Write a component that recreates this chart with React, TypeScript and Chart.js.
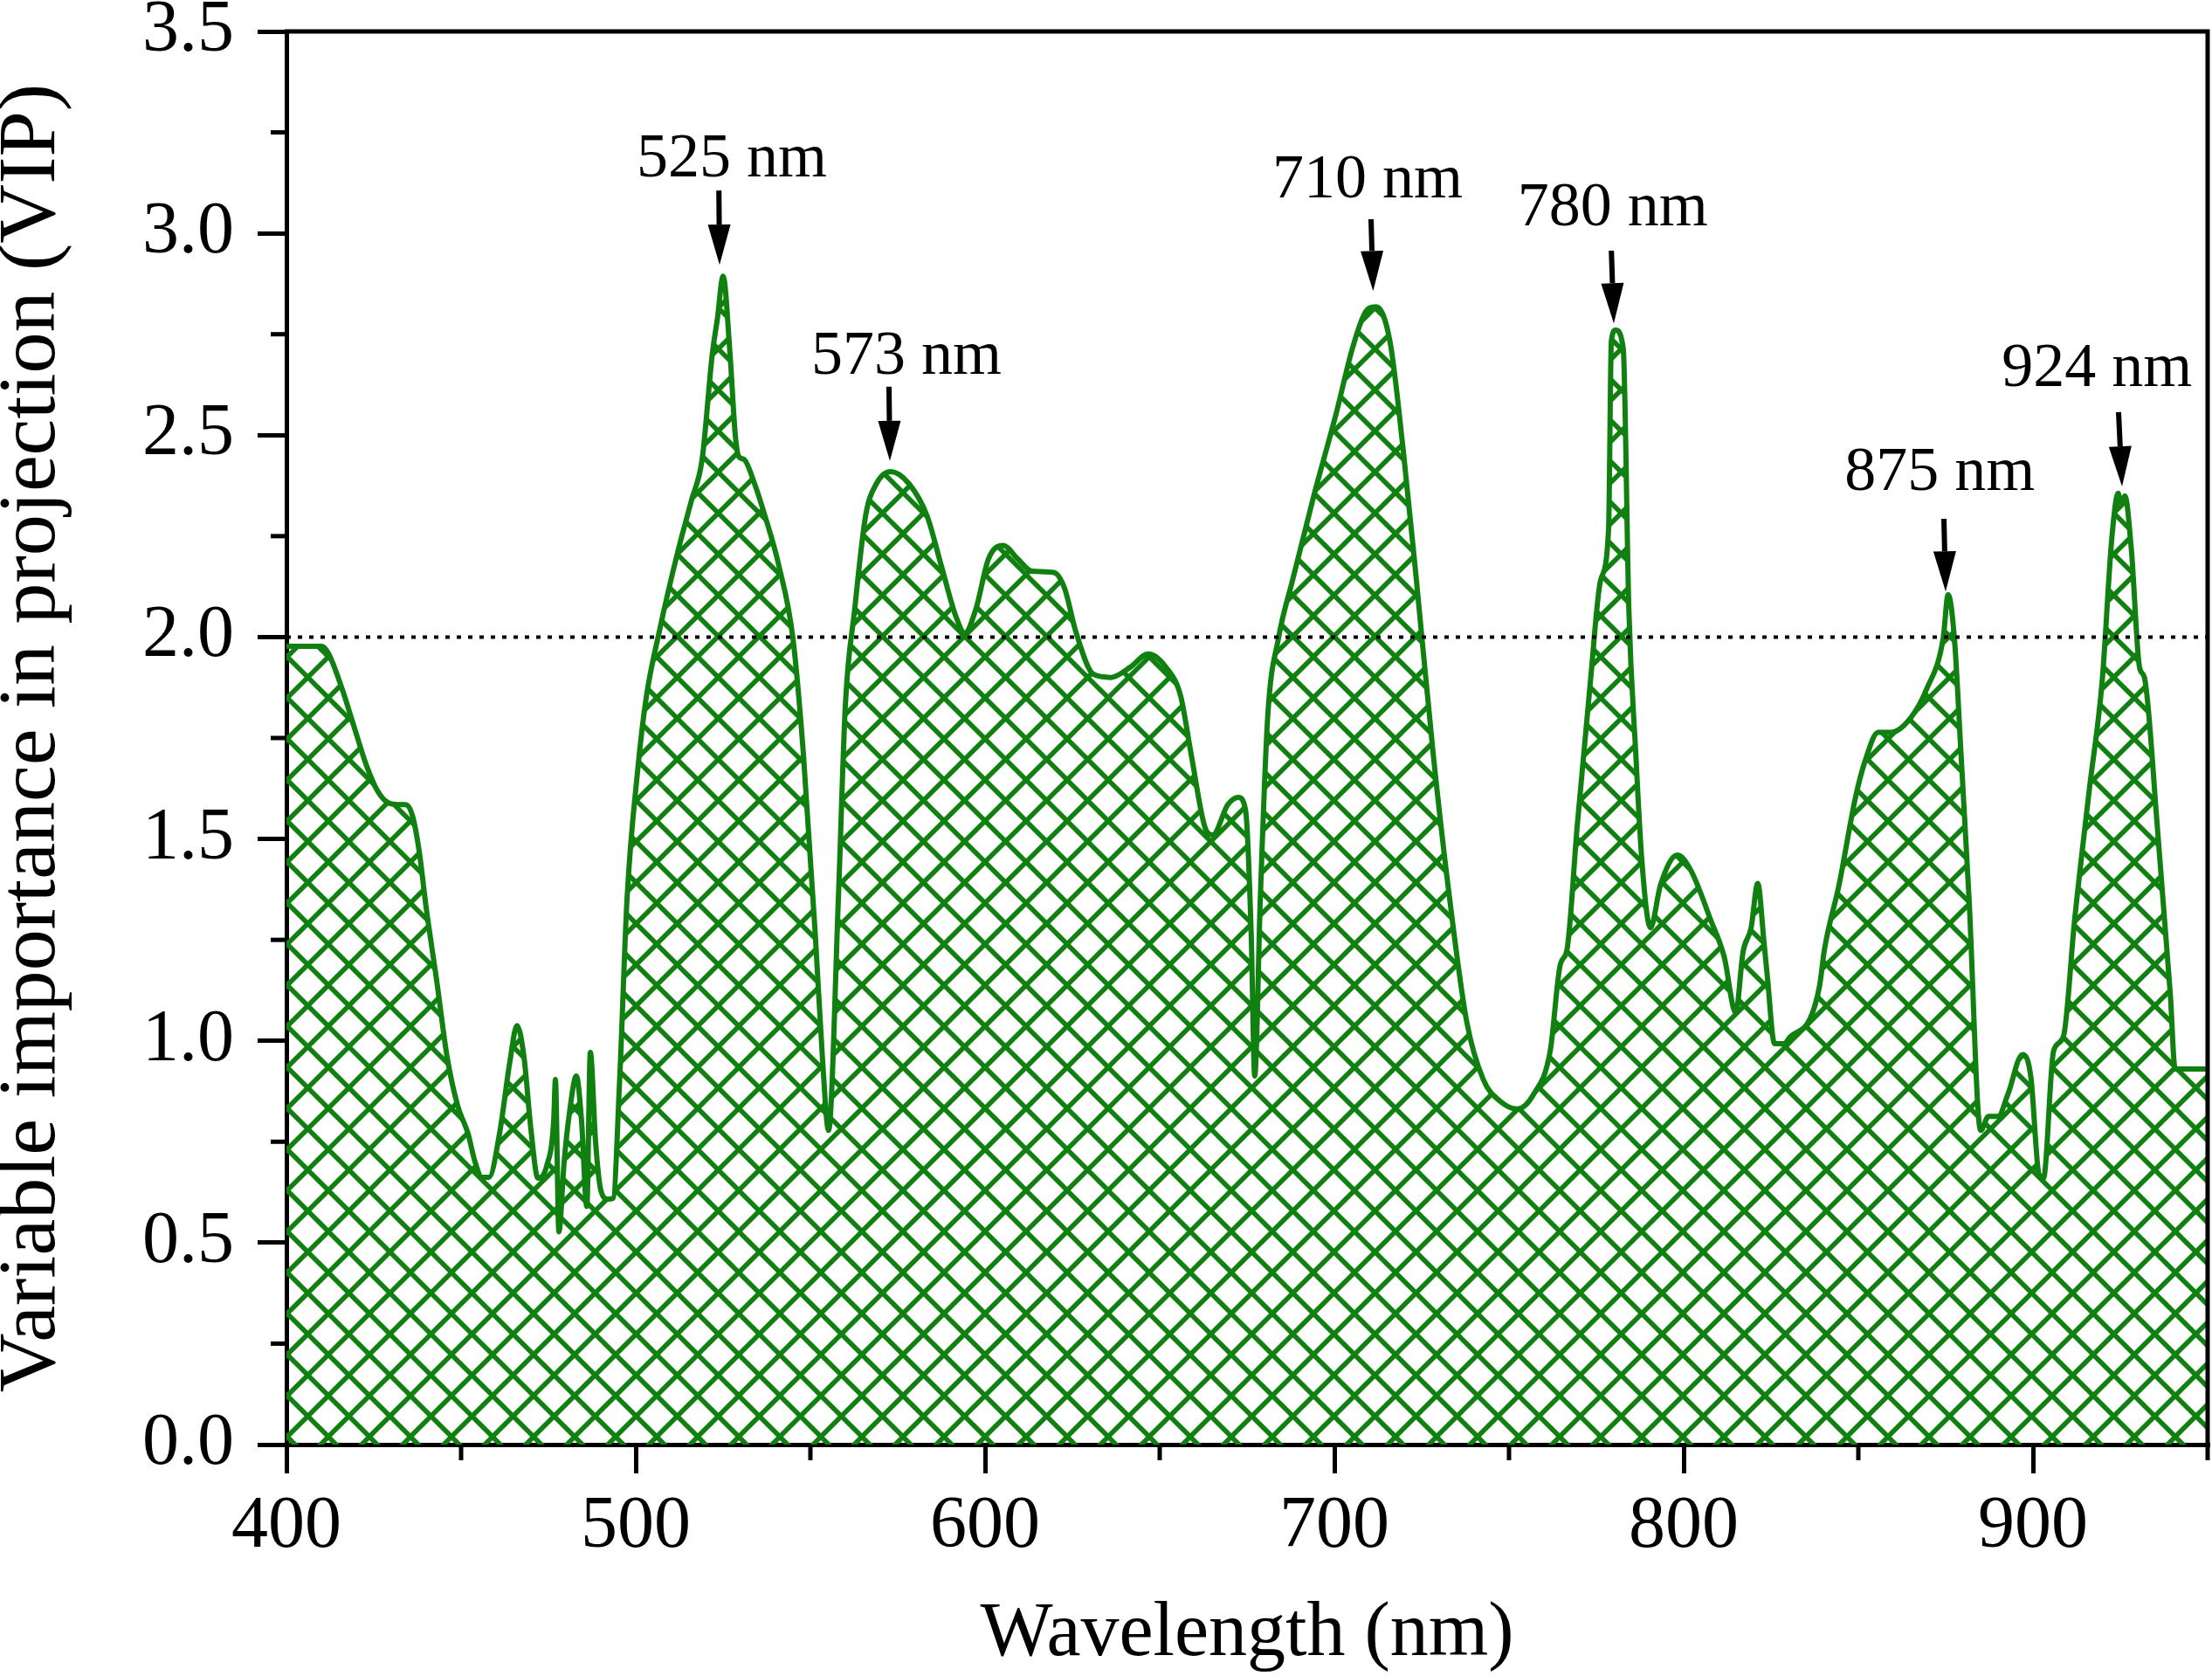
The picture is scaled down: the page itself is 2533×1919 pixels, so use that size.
import { useEffect, useRef } from 'react';
import { Chart, registerables } from 'chart.js';
Chart.register(...registerables);

// VIP spectrum
const WAVELENGTH = [
  400, 410, 412, 416, 420, 423, 426, 429, 432, 434, 436, 438, 440, 443, 446, 449, 452, 454, 456, 458,
  461, 464, 466, 468, 470, 472, 474.5, 476.5, 477, 478, 479.5, 481, 483, 484.5, 486, 487, 488.5, 490, 492, 493.5,
  495.4, 497.5, 500.6, 503, 506.8, 512, 516, 519, 521.9, 523.4, 525, 527, 528.5, 529.5, 531, 534, 537, 541, 545, 548,
  551.4, 553.5, 555.2, 558, 560, 562.7, 565.8, 568.9, 573, 578.2, 583.4, 587.5, 591.7, 594.2, 597.4, 601, 605.2, 609.3, 613.5, 619.7,
  622.8, 625.9, 631, 636, 641.5, 646.7, 651.8, 656, 659, 663.2, 665.2, 669.5, 672.5, 674.6, 676.2, 677.2, 678.8, 680.9, 684, 688,
  694.3, 700.5, 705, 708.3, 710, 712, 715.9, 719.7, 723.5, 728.3, 733, 737.9, 742.7, 747.5, 752.3, 757, 761.8, 764.7, 766.6, 769.5,
  773.3, 776.2, 778.5, 779.3, 780.5, 782.7, 784.3, 786.3, 788, 790.5, 793.4, 798.2, 802, 807.8, 811.6, 814.9, 817, 819.3, 821.2, 823,
  824, 826, 828.8, 830.5, 836.2, 838.9, 840.3, 844.5, 849.2, 851.9, 855.7, 859.4, 865, 869.6, 874.3, 875.7, 877.5, 879.4, 881.7, 885,
  887.3, 890, 892.8, 897, 899.4, 901.7, 903, 905.9, 908.7, 911.9, 916.1, 919.8, 922.6, 924.4, 925, 926.3, 928.2, 930.5, 931.9, 935.6,
  939.3, 940.7, 950,
];
const VIP = [
  1.977, 1.977, 1.96, 1.87, 1.76, 1.68, 1.62, 1.59, 1.585, 1.585, 1.56, 1.47, 1.33, 1.15, 0.96, 0.84, 0.77, 0.7, 0.662, 0.662,
  0.77, 0.95, 1.038, 0.96, 0.78, 0.66, 0.69, 0.8, 0.904, 0.527, 0.7, 0.82, 0.913, 0.8, 0.59, 0.971, 0.75, 0.63, 0.608, 0.61,
  0.904, 1.35, 1.674, 1.85, 2.016, 2.21, 2.34, 2.44, 2.7, 2.79, 2.894, 2.7, 2.5, 2.447, 2.44, 2.38, 2.3, 2.176, 1.997, 1.71,
  1.263, 0.95, 0.778, 1.35, 1.83, 2.07, 2.3, 2.38, 2.41, 2.38, 2.3, 2.176, 2.05, 2.01, 2.07, 2.194, 2.227, 2.194, 2.163, 2.16,
  2.12, 2.016, 1.908, 1.9, 1.925, 1.958, 1.925, 1.854, 1.71, 1.523, 1.51, 1.585, 1.603, 1.57, 1.262, 0.913, 1.352, 1.8, 1.997, 2.14,
  2.356, 2.553, 2.71, 2.795, 2.815, 2.818, 2.733, 2.464, 2.14, 1.71, 1.352, 1.047, 0.903, 0.85, 0.831, 0.867, 0.975, 1.19, 1.226, 1.53,
  1.89, 2.14, 2.267, 2.733, 2.76, 2.715, 2.07, 1.71, 1.45, 1.28, 1.387, 1.46, 1.423, 1.298, 1.208, 1.07, 1.22, 1.28, 1.39, 1.244,
  1.155, 0.993, 0.993, 1.01, 1.055, 1.136, 1.226, 1.387, 1.603, 1.692, 1.764, 1.764, 1.8, 1.872, 1.997, 2.105, 1.997, 1.71, 1.352, 0.778,
  0.813, 0.813, 0.867, 0.966, 0.91, 0.67, 0.66, 0.975, 1.01, 1.298, 1.62, 1.89, 2.248, 2.356, 2.33, 2.35, 2.213, 1.925, 1.9, 1.53,
  1.118, 0.93, 0.93,
];

const THRESHOLD = 2.0;
const Y_MINOR = [0.25, 0.75, 1.25, 1.75, 2.25, 2.75, 3.25];
const X_MINOR = [450, 550, 650, 750, 850, 950];

// peak callouts (label and arrow in data units)
const PEAK_LABELS = ['525 nm', '573 nm', '710 nm', '780 nm', '875 nm', '924 nm'];
const LABEL_WL = [527.5, 577.5, 709.5, 779.7, 873.3, 918.3];
const LABEL_VIP = [3.14, 2.652, 3.09, 3.02, 2.364, 2.622];
const TAIL_WL = [523.8, 572.5, 710.5, 779.3, 874.5, 924.5];
const TAIL_VIP = [3.106, 2.62, 3.035, 2.957, 2.293, 2.557];
const TIP_WL = [524, 572.75, 711.1, 780, 875, 925.5];
const TIP_VIP = [2.922, 2.436, 2.857, 2.777, 2.113, 2.373];

const GREEN = 'rgb(16,128,16)';
const FONT = "'Liberation Serif', 'Times New Roman', serif";

function makeHatch(color: string) {
  const p = 47;
  const c = document.createElement('canvas');
  c.width = p;
  c.height = p;
  const g = c.getContext('2d')!;
  g.strokeStyle = color;
  g.lineWidth = 5.5;
  for (const k of [-1, 0, 1]) {
    g.beginPath(); g.moveTo(k * p - p, -p); g.lineTo(k * p + 2 * p, 2 * p); g.stroke();
    g.beginPath(); g.moveTo(k * p + 2 * p, -p); g.lineTo(k * p - p, 2 * p); g.stroke();
  }
  return g.createPattern(c, 'repeat')!;
}

const overlay = {
  id: 'overlay',
  afterDatasetsDraw(chart: any) {
    const { ctx, chartArea: a, scales: { x, y } } = chart;
    ctx.save();
    ctx.strokeStyle = '#000';
    ctx.fillStyle = '#000';

    // dotted threshold
    const ty = y.getPixelForValue(THRESHOLD);
    ctx.lineWidth = 4;
    ctx.setLineDash([5, 8]);
    ctx.beginPath(); ctx.moveTo(a.left, ty); ctx.lineTo(a.right, ty); ctx.stroke();
    ctx.setLineDash([]);

    // frame top + right
    ctx.lineWidth = 5;
    ctx.beginPath();
    ctx.moveTo(a.left - 2, a.top); ctx.lineTo(a.right, a.top); ctx.lineTo(a.right, a.bottom);
    ctx.stroke();

    // minor ticks
    for (const v of Y_MINOR) {
      const py = y.getPixelForValue(v);
      ctx.beginPath(); ctx.moveTo(a.left - 18, py); ctx.lineTo(a.left, py); ctx.stroke();
    }
    for (const v of X_MINOR) {
      const px = x.getPixelForValue(v);
      ctx.beginPath(); ctx.moveTo(px, a.bottom); ctx.lineTo(px, a.bottom + 18); ctx.stroke();
    }

    // peak labels + arrows
    ctx.font = `72px ${FONT}`;
    ctx.textAlign = 'center';
    ctx.textBaseline = 'alphabetic';
    PEAK_LABELS.forEach((t, i) => {
      ctx.fillText(t, x.getPixelForValue(LABEL_WL[i]), y.getPixelForValue(LABEL_VIP[i]));
      const x0 = x.getPixelForValue(TAIL_WL[i]);
      const y0 = y.getPixelForValue(TAIL_VIP[i]);
      const x1 = x.getPixelForValue(TIP_WL[i]);
      const y1 = y.getPixelForValue(TIP_VIP[i]);
      const len = Math.hypot(x1 - x0, y1 - y0);
      const dx = (x1 - x0) / len;
      const dy = (y1 - y0) / len;
      const hx = x1 - dx * 46;
      const hy = y1 - dy * 46;
      ctx.lineWidth = 6;
      ctx.beginPath(); ctx.moveTo(x0, y0); ctx.lineTo(hx, hy); ctx.stroke();
      ctx.beginPath();
      ctx.moveTo(x1, y1);
      ctx.lineTo(hx - dy * 13, hy + dx * 13);
      ctx.lineTo(hx + dy * 13, hy - dx * 13);
      ctx.closePath();
      ctx.fill();
    });
    ctx.restore();
  },
};

export default function App() {
  const chartRef = useRef<HTMLCanvasElement>(null);

  useEffect(() => {
    if (!chartRef.current) return;
    const chart = new Chart(chartRef.current, {
      type: 'line',
      data: {
        datasets: [{
          data: WAVELENGTH.map((w, i) => ({ x: w, y: VIP[i] })),
          borderColor: GREEN,
          borderWidth: 6,
          backgroundColor: makeHatch(GREEN),
          fill: 'origin',
          pointRadius: 0,
          cubicInterpolationMode: 'monotone',
        }],
      },
      options: {
        animation: false,
        responsive: true,
        maintainAspectRatio: false,
        layout: { padding: { top: 36, right: 5, left: 0, bottom: 0 } },
        plugins: { legend: { display: false }, tooltip: { enabled: false } },
        scales: {
          x: {
            type: 'linear',
            min: 400,
            max: 950,
            afterFit: (s: any) => { s.height = 265; s.paddingLeft = 0; s.paddingRight = 0; },
            border: { display: true, color: '#000', width: 5 },
            grid: { drawOnChartArea: false, drawTicks: true, tickLength: 33, lineWidth: 5, color: '#000', tickColor: '#000' },
            ticks: {
              stepSize: 100, includeBounds: false, autoSkip: false, maxRotation: 0, padding: 20, color: '#000',
              font: { family: FONT, size: 84, lineHeight: 1 },
              callback: (v) => String(v),
            },
            title: {
              display: true, text: 'Wavelength (nm)', color: '#000',
              font: { family: FONT, size: 88, lineHeight: 1 }, padding: { top: 0, bottom: 3 },
            },
          },
          y: {
            min: 0,
            max: 3.5,
            afterFit: (s: any) => { s.width = 328; s.paddingTop = 0; s.paddingBottom = 0; },
            border: { display: true, color: '#000', width: 5 },
            grid: { drawOnChartArea: false, drawTicks: true, tickLength: 33, lineWidth: 5, color: '#000', tickColor: '#000' },
            ticks: {
              stepSize: 0.5, padding: 27, color: '#000',
              font: { family: FONT, size: 84, lineHeight: 1 },
              callback: (v) => Number(v).toFixed(1),
            },
            title: {
              display: true, text: 'Variable importance in projection (VIP)', color: '#000',
              font: { family: FONT, size: 94, lineHeight: 0.8 }, padding: 0,
            },
          },
        },
      },
      plugins: [overlay],
    });
    return () => { chart.destroy(); };
  }, []);

  return (
    <div style={{ position: 'absolute', left: 0, top: 0, width: 2533, height: 1919, background: '#fff' }}>
      <canvas ref={chartRef} />
    </div>
  );
}
